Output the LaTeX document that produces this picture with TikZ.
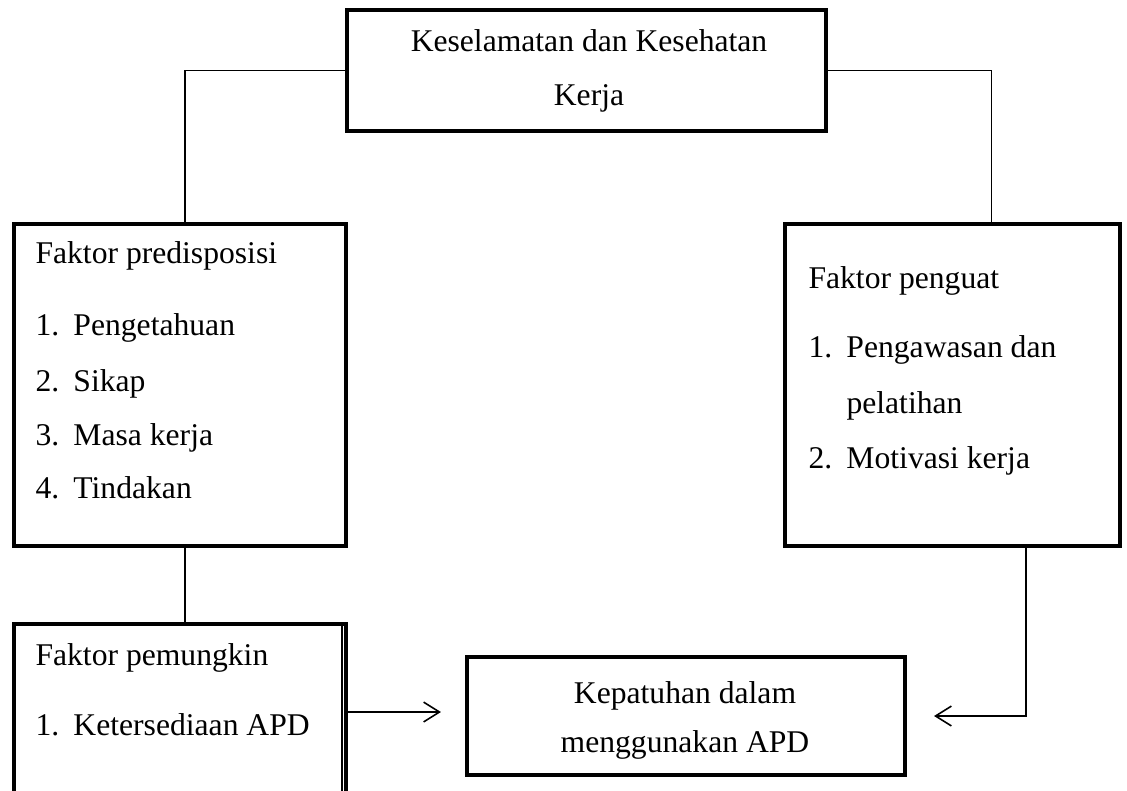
\documentclass[tikz,border=0pt]{standalone}
\usepackage{fontspec}
\setmainfont{Liberation Serif}
\usetikzlibrary{arrows.meta,calc}
\newcommand{\butir}[2]{\makebox[14.4pt][l]{#1}#2}
\tikzset{
  kotak/.style={draw,line width=1.5pt,inner sep=0pt},
  garis/.style={line width=0.6pt},
  panah/.style={line width=0.6pt,-{Straight Barb[length=6pt,width=7.5pt]}},
  teks/.style={inner sep=0pt,anchor=base west,font=\fontsize{12}{14}\selectfont},
  tengah/.style={teks,anchor=base}
}
\begin{document}
\begin{tikzpicture}[x=0.01334cm,y=-0.01334cm]
        \useasboundingbox (0,0) rectangle (1127,790);
        %% Kotak
        \node[kotak,minimum width=6.39cm,minimum height=1.614cm] (keselamatan) at (586.5,70.5) {};
        \node[kotak,minimum width=4.429cm,minimum height=4.295cm] (predisposisi) at (180,385) {};
        \node[kotak,minimum width=4.469cm,minimum height=4.295cm] (penguat) at (952.5,385) {};
        \node[kotak,minimum width=4.429cm,minimum height=2.348cm] (pemungkin) at (180,712) {};
        \node[kotak,minimum width=5.843cm,minimum height=1.574cm] (kepatuhan) at (686,716) {};
        \draw[line width=0.75pt] ([xshift=-2.4pt]pemungkin.north east) -- ([xshift=-2.4pt]pemungkin.south east);
        %% Teks
        \node[tengah] (k3a) at (589,51) {Keselamatan dan Kesehatan};
        \node[tengah] (k3b) at (589,105) {Kerja};
        \node[teks] (fpre) at (35,263) {Faktor predisposisi};
        \foreach \i/\y/\t in {1/335/Pengetahuan,2/391/Sikap,3/445/Masa kerja,4/498/Tindakan}
          \node[teks] (pre\i) at (35,\y) {\butir{\i.}{\t}};
        \node[teks] (fpg) at (808,288) {Faktor penguat};
        \node[teks] (pg1) at (808,357) {\butir{1.}{Pengawasan dan}};
        \node[teks] (pg1b) at (846,413) {pelatihan};
        \node[teks] (pg2) at (808,468) {\butir{2.}{Motivasi kerja}};
        \node[teks] (fpm) at (35,665) {Faktor pemungkin};
        \node[teks] (pm1) at (35,735) {\butir{1.}{Ketersediaan APD}};
        \node[tengah] (kpa) at (685,703) {Kepatuhan dalam};
        \node[tengah] (kpb) at (685,752) {menggunakan APD};
        %% Garis
        \draw[garis] (keselamatan.west) -| ([xshift=2pt]predisposisi.north);
        \draw[garis] (keselamatan.east) -| ($(penguat.north west)!0.615!(penguat.north east)$);
        \draw[garis] ([xshift=2pt]predisposisi.south) -- ([xshift=2pt]pemungkin.north);
        \draw[panah] (pemungkin.east) -- ($(kepatuhan.west |- pemungkin.east)+(-24,0)$);
        \draw[panah] ($(penguat.south west)!0.716!(penguat.south east)$) |- ($(kepatuhan.east)+(27,0)$);
    \end{tikzpicture}
\end{document}
